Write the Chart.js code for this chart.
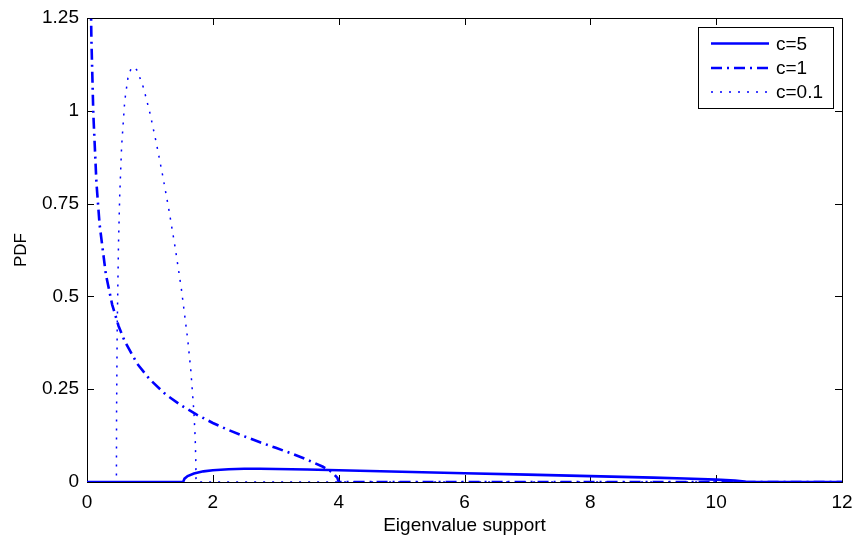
<!DOCTYPE html>
<html>
<head>
<meta charset="utf-8">
<script src="https://cdn.jsdelivr.net/npm/chart.js@4.4.1/dist/chart.umd.min.js"></script>
<style>
  html, body { margin: 0; padding: 0; background: #fff; }
  #wrap { width: 854px; height: 539px; }
</style>
</head>
<body>
<div id="wrap"><canvas id="pdfChart" width="854" height="539"></canvas></div>
<script>
// Series labels
const seriesLabels = ["c=5", "c=1", "c=0.1"];

// c=5 curve
const c5X = [0, 1.528, 1.55, 1.6, 1.7, 1.85, 2, 2.25, 2.5, 2.75, 3, 3.5, 4, 5, 6, 7, 8, 9, 9.5, 10, 10.3, 10.45, 10.472, 12];
const c5Y = [0, 0, 0.0091, 0.0159, 0.0230, 0.0287, 0.0318, 0.0345, 0.0355, 0.0356, 0.0352, 0.0337, 0.0318, 0.0278, 0.0237, 0.0198, 0.0159, 0.0117, 0.0093, 0.0064, 0.0038, 0.0014, 0, 0];

// c=1 curve
const c1X = [0.05, 0.07, 0.1, 0.15, 0.2, 0.3, 0.4, 0.5, 0.6, 0.8, 1, 1.25, 1.5, 1.75, 2, 2.25, 2.5, 2.75, 3, 3.25, 3.5, 3.75, 3.9, 3.98, 4, 12];
const c1Y = [1.415, 1.193, 0.994, 0.806, 0.694, 0.559, 0.478, 0.421, 0.379, 0.318, 0.276, 0.236, 0.206, 0.181, 0.159, 0.140, 0.123, 0.107, 0.092, 0.077, 0.060, 0.041, 0.026, 0.011, 0, 0];

// c=0.1 curve
const c01X = [0, 0.4675, 0.47, 0.48, 0.5, 0.52, 0.55, 0.6, 0.65, 0.7, 0.75, 0.8, 0.9, 1.0, 1.1, 1.2, 1.3, 1.4, 1.5, 1.6, 1.65, 1.7, 1.72, 1.73, 1.7325, 12];
const c01Y = [0, 0, 0.189, 0.414, 0.637, 0.772, 0.904, 1.027, 1.088, 1.114, 1.118, 1.108, 1.061, 0.994, 0.915, 0.828, 0.735, 0.633, 0.520, 0.385, 0.301, 0.187, 0.116, 0.051, 0, 0];

// Axis ticks
const xTickValues = [0, 2, 4, 6, 8, 10, 12];
const yTickValues = [0, 0.25, 0.5, 0.75, 1, 1.25];
const yTickLabels = ["0", "0.25", "0.5", "0.75", "1", "1.25"];

function toPoints(xs, ys) {
    return xs.map((x, i) => ({ x: x, y: ys[i] }));
}

const lineStyles = [
    { width: 2.6, dash: [] },
    { width: 2.6, dash: [11, 5, 2, 5] },
    { width: 1.5, dash: [2, 7] }
];

// Box, inward ticks and legend, drawn MATLAB style
const matlabAxes = {
    id: "matlabAxes",
    beforeDatasetsDraw(chart) {
        const ctx = chart.ctx;
        const area = chart.chartArea;
        const xs = chart.scales.x;
        const ys = chart.scales.y;
        ctx.save();
        ctx.strokeStyle = "#000";
        ctx.lineWidth = 1;
        ctx.strokeRect(area.left + 0.5, area.top + 0.5, area.right - area.left, area.bottom - area.top);
        ctx.beginPath();
        xTickValues.forEach((v) => {
            const px = Math.round(xs.getPixelForValue(v)) + 0.5;
            ctx.moveTo(px, area.bottom);
            ctx.lineTo(px, area.bottom - 7);
            ctx.moveTo(px, area.top);
            ctx.lineTo(px, area.top + 7);
        });
        yTickValues.forEach((v) => {
            const py = Math.round(ys.getPixelForValue(v)) + 0.5;
            ctx.moveTo(area.left, py);
            ctx.lineTo(area.left + 7, py);
            ctx.moveTo(area.right, py);
            ctx.lineTo(area.right - 7, py);
        });
        ctx.stroke();
        ctx.restore();
    },
    afterDraw(chart) {
        const ctx = chart.ctx;
        const left = 698, top = 27, w = 135, h = 81;
        ctx.save();
        ctx.fillStyle = "#fff";
        ctx.fillRect(left, top, w, h);
        ctx.strokeStyle = "#000";
        ctx.lineWidth = 1;
        ctx.strokeRect(left + 0.5, top + 0.5, w, h);
        ctx.font = "19px 'Liberation Sans', Arial, sans-serif";
        ctx.textBaseline = "middle";
        ctx.fillStyle = "#000";
        const rows = [43.5, 68, 92];
        chart.data.datasets.forEach((ds, i) => {
            ctx.beginPath();
            ctx.strokeStyle = ds.borderColor;
            ctx.lineWidth = ds.borderWidth;
            ctx.setLineDash(ds.borderDash || []);
            ctx.moveTo(711, rows[i]);
            ctx.lineTo(769, rows[i]);
            ctx.stroke();
            ctx.setLineDash([]);
            ctx.fillText(ds.label, 776, rows[i] + 1);
        });
        ctx.restore();
    }
};

const ctx = document.querySelector("#pdfChart").getContext("2d");

new Chart(ctx, {
    type: "scatter",
    data: {
        datasets: [
            { x: c5X, y: c5Y },
            { x: c1X, y: c1Y },
            { x: c01X, y: c01Y }
        ].map((s, i) => ({
            label: seriesLabels[i],
            data: toPoints(s.x, s.y),
            showLine: true,
            borderColor: "#0000ff",
            backgroundColor: "#0000ff",
            borderWidth: lineStyles[i].width,
            borderDash: lineStyles[i].dash,
            pointRadius: 0,
            tension: 0,
            order: 3 - i
        }))
    },
    options: {
        responsive: false,
        devicePixelRatio: 1,
        animation: false,
        layout: { padding: { left: 0, top: 18, right: 12, bottom: 0 } },
        plugins: {
            legend: { display: false },
            tooltip: { enabled: false }
        },
        scales: {
            x: {
                type: "linear",
                min: 0,
                max: 12,
                afterBuildTicks: (scale) => { scale.ticks = xTickValues.map((v) => ({ value: v })); },
                afterFit: (scale) => {
                    scale.height = 57;
                    scale.paddingLeft = 0;
                    scale.paddingRight = 0;
                },
                grid: { display: false, drawTicks: false },
                border: { display: false },
                ticks: {
                    padding: 9,
                    color: "#000",
                    maxRotation: 0,
                    font: { family: "'Liberation Sans', Arial, sans-serif", size: 19 }
                },
                title: {
                    display: true,
                    text: "Eigenvalue support",
                    color: "#000",
                    padding: { top: 0, bottom: 2 },
                    font: { family: "'Liberation Sans', Arial, sans-serif", size: 19 }
                }
            },
            y: {
                type: "linear",
                min: 0,
                max: 1.25,
                afterBuildTicks: (scale) => { scale.ticks = yTickValues.map((v) => ({ value: v })); },
                afterFit: (scale) => {
                    scale.width = 87;
                    scale.paddingTop = 0;
                    scale.paddingBottom = 0;
                },
                grid: { display: false, drawTicks: false },
                border: { display: false },
                ticks: {
                    padding: 8,
                    color: "#000",
                    callback: (value, index) => yTickLabels[index],
                    font: { family: "'Liberation Sans', Arial, sans-serif", size: 19 }
                },
                title: {
                    display: true,
                    text: "PDF",
                    color: "#000",
                    padding: { top: 11, bottom: 0 },
                    font: { family: "'Liberation Sans', Arial, sans-serif", size: 17 }
                }
            }
        }
    },
    plugins: [matlabAxes]
});
</script>
</body>
</html>
